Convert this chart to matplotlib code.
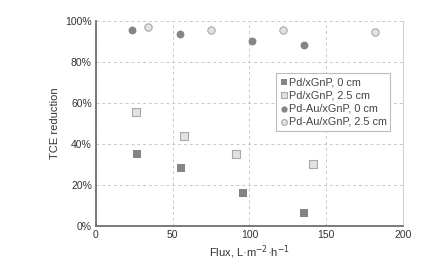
import matplotlib
matplotlib.use("Agg")
import matplotlib.pyplot as plt
from matplotlib.ticker import FuncFormatter

plt.rcParams['font.family'] = ['Liberation Sans', 'DejaVu Sans']

pd0_x = [26.5, 55.1, 95.9, 135.4]
pd0_y = [35.1, 28.1, 16.3, 6.2]
pd25_x = [26.2, 57.3, 91.5, 141.4]
pd25_y = [55.6, 44.1, 35.0, 30.2]
pdau0_x = [23.6, 54.9, 101.5, 135.8]
pdau0_y = [95.4, 93.8, 90.4, 88.3]
pdau25_x = [34.1, 75.1, 121.5, 182.0]
pdau25_y = [97.1, 95.8, 95.4, 94.4]
labels = ["Pd/xGnP, 0 cm", "Pd/xGnP, 2.5 cm", "Pd-Au/xGnP, 0 cm", "Pd-Au/xGnP, 2.5 cm"]

fig = plt.figure(figsize=(4.31, 2.72), dpi=100)
ax = fig.add_axes([96/431, 1-226/272, (403-96)/431, (226-21)/272])

dark = '#858585'
lightface = '#e2e2e2'
lightedge = '#a8a8a8'

ax.scatter(pd0_x, pd0_y, marker='s', s=34, color=dark, label=labels[0], zorder=3, linewidths=0)
ax.scatter(pd25_x, pd25_y, marker='s', s=30, facecolor=lightface, edgecolor=lightedge, linewidths=0.8, label=labels[1], zorder=3)
ax.scatter(pdau0_x, pdau0_y, marker='o', s=32, color=dark, label=labels[2], zorder=3, linewidths=0)
ax.scatter(pdau25_x, pdau25_y, marker='o', s=28, facecolor=lightface, edgecolor=lightedge, linewidths=0.8, label=labels[3], zorder=3)

ax.set_xlim(0, 200)
ax.set_ylim(0, 100)
ax.set_xticks([0, 50, 100, 150, 200])
ax.set_yticks([0, 20, 40, 60, 80, 100])
ax.yaxis.set_major_formatter(FuncFormatter(lambda v, p: f"{int(v)}%"))
ax.grid(True, linestyle=(0, (3, 3)), color='#c8c8c8', linewidth=0.7)
ax.set_axisbelow(True)

for s in ['left', 'bottom']:
    ax.spines[s].set_color('#6e6e6e')
    ax.spines[s].set_linewidth(1.3)
ax.spines['top'].set_visible(False)
ax.spines['right'].set_color('#d0d0d0')
ax.spines['right'].set_linewidth(0.8)
ax.tick_params(length=0, labelsize=7.5, colors='#333333', pad=3)

ax.set_xlabel("Flux, L·m$^{-2}$·h$^{-1}$", fontsize=8, color='#333333', labelpad=2)
ax.set_ylabel("TCE reduction", fontsize=8, color='#333333', labelpad=4)

leg = ax.legend(loc='upper left', bbox_to_anchor=(0.585, 0.745), fontsize=7.8,
                frameon=True, fancybox=False, edgecolor='#bdbdbd', framealpha=1,
                handletextpad=0.05, handlelength=0.8, borderpad=0.35, labelspacing=0.3,
                borderaxespad=0, markerscale=0.8)
leg.get_frame().set_linewidth(0.8)
for t in leg.get_texts():
    t.set_color('#444444')

fig.savefig("out.png", dpi=100)
